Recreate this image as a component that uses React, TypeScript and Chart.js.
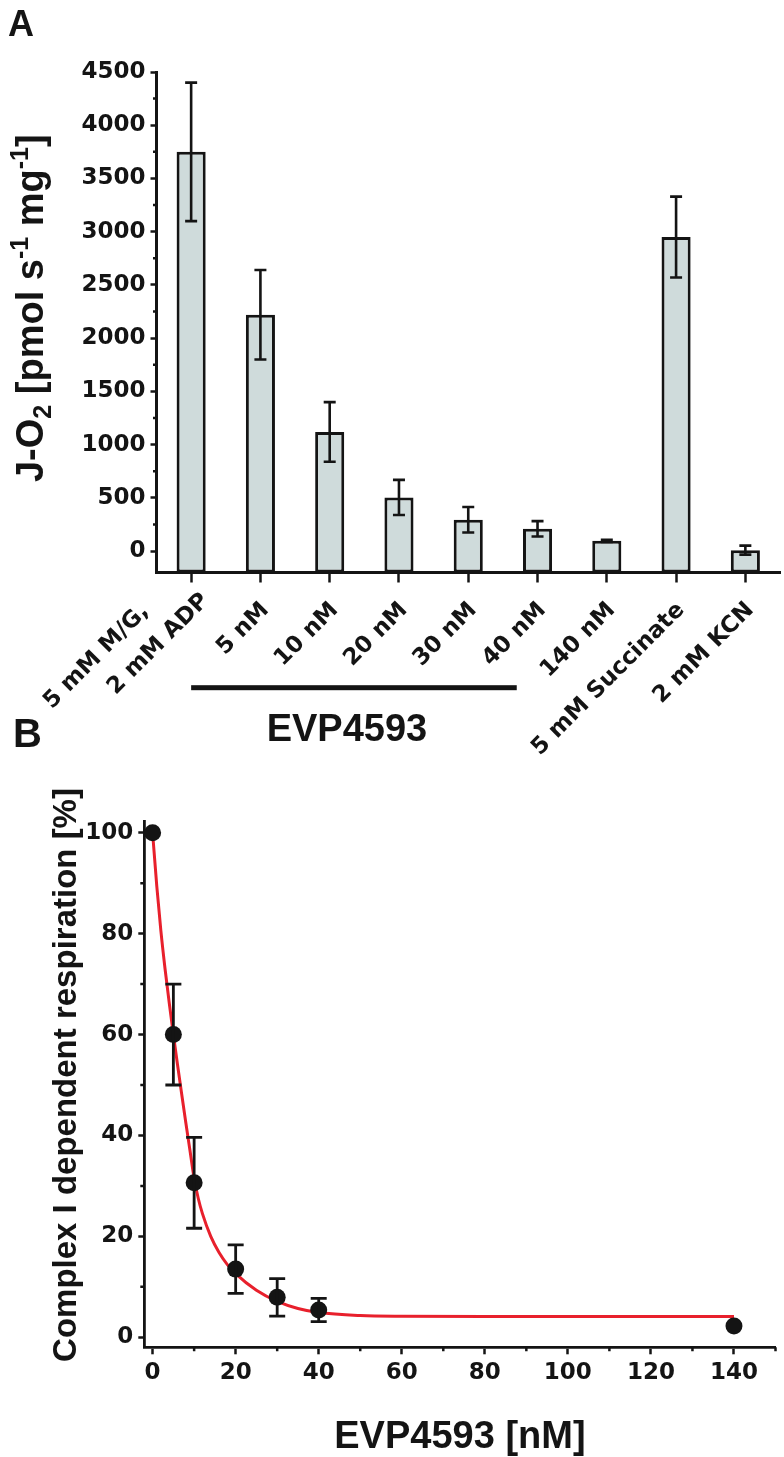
import React, { useEffect, useRef } from "react";
import { Chart, registerables } from "chart.js";

Chart.register(...registerables);

// ---------------- Panel A data ----------------
const conditionLabels: (string | string[])[] = [
  ["5 mM M/G,", "2 mM ADP"],
  "5 nM",
  "10 nM",
  "20 nM",
  "30 nM",
  "40 nM",
  "140 nM",
  "5 mM Succinate",
  "2 mM KCN",
];
const jo2Values = [3750, 2220, 1120, 505, 295, 210, 97, 2950, 10];
const jo2Errors = [650, 420, 280, 165, 120, 72, 10, 380, 42];
const jo2MajorTicks = [0, 500, 1000, 1500, 2000, 2500, 3000, 3500, 4000, 4500];
const jo2MinorTicks = [250, 750, 1250, 1750, 2250, 2750, 3250, 3750, 4250];
const jo2AxisMin = -200;
const jo2AxisMax = 4500;
const inhibitorName = "EVP4593";

// ---------------- Panel B data ----------------
const doseNm = [0, 5, 10, 20, 30, 40, 140];
const respirationPct = [100, 60, 30.6, 13.5, 7.9, 5.4, 2.2];
const respirationErr = [0, 10, 9, 4.8, 3.7, 2.3, 0];
const fitDoseNm = [0, 1, 2, 3, 4, 5, 6, 7, 8, 9, 10, 11, 12, 14, 16, 18, 20, 25, 30, 35, 40, 50, 60, 80, 100, 120, 140];
const fitRespirationPct = [100, 89.5, 80.5, 73, 66.3, 60, 54, 48.2, 42.5, 37, 31.5, 27.5, 24.5, 20, 16.8, 14.4, 12.6, 9.3, 7.1, 5.7, 4.9, 4.3, 4.15, 4.1, 4.1, 4.1, 4.1];
const doseMajorTicks = [0, 20, 40, 60, 80, 100, 120, 140];
const doseMinorTicks = [10, 30, 50, 70, 90, 110, 130, 150];
const respMajorTicks = [0, 20, 40, 60, 80, 100];
const respMinorTicks = [10, 30, 50, 70, 90];

// ---------------- styling ----------------
const W = 784;
const A_H = 770;
const B_TOP = 770;
const B_H = 1457 - B_TOP;
const INK = "#141414";
const BAR_FILL = "#cfdbdb";
const FIT_RED = "#e8202c";
const TICK_FONT = { family: "'DejaVu Sans', sans-serif", weight: "bold" as const, size: 23 };
const TITLE_FAMILY = "'Liberation Sans', Arial, sans-serif";

type Run = { text: string; size: number; dy: number };

function drawRotatedRuns(ctx: CanvasRenderingContext2D, runs: Run[], baselineX: number, centerY: number) {
  ctx.save();
  let total = 0;
  const widths = runs.map((r) => {
    ctx.font = `bold ${r.size}px ${TITLE_FAMILY}`;
    const w = ctx.measureText(r.text).width;
    total += w;
    return w;
  });
  ctx.translate(baselineX, centerY);
  ctx.rotate(-Math.PI / 2);
  ctx.fillStyle = INK;
  ctx.textAlign = "left";
  ctx.textBaseline = "alphabetic";
  let x = -total / 2;
  runs.forEach((r, i) => {
    ctx.font = `bold ${r.size}px ${TITLE_FAMILY}`;
    ctx.fillText(r.text, x, r.dy);
    x += widths[i];
  });
  ctx.restore();
}

function drawMinorTicks(ctx: CanvasRenderingContext2D, scale: any, values: number[], len: number, vertical: boolean) {
  ctx.save();
  ctx.strokeStyle = INK;
  ctx.lineWidth = 2.5;
  ctx.beginPath();
  values.forEach((v) => {
    const p = scale.getPixelForValue(v);
    if (vertical) {
      ctx.moveTo(scale.right - len, p);
      ctx.lineTo(scale.right, p);
    } else {
      ctx.moveTo(p, scale.top);
      ctx.lineTo(p, scale.top + len);
    }
  });
  ctx.stroke();
  ctx.restore();
}

const panelAPlugin = {
  id: "panelA",
  afterDatasetsDraw(chart: any) {
    const ctx: CanvasRenderingContext2D = chart.ctx;
    const y = chart.scales.y;
    const meta = chart.getDatasetMeta(0);
    ctx.save();
    ctx.strokeStyle = INK;
    ctx.lineWidth = 2.6;
    meta.data.forEach((el: any, i: number) => {
      const cx = el.x;
      const t = y.getPixelForValue(jo2Values[i] + jo2Errors[i]);
      const b = y.getPixelForValue(jo2Values[i] - jo2Errors[i]);
      ctx.beginPath();
      ctx.moveTo(cx, t);
      ctx.lineTo(cx, b);
      ctx.moveTo(cx - 6, t);
      ctx.lineTo(cx + 6, t);
      ctx.moveTo(cx - 6, b);
      ctx.lineTo(cx + 6, b);
      ctx.stroke();
    });
    ctx.restore();
  },
  afterDraw(chart: any) {
    const ctx: CanvasRenderingContext2D = chart.ctx;
    const xs = chart.scales.x;
    const ys = chart.scales.y;
    drawMinorTicks(ctx, ys, jo2MinorTicks, 3.5, true);

    // rotated category labels
    const ux = Math.SQRT1_2, uy = -Math.SQRT1_2; // along text
    const vx = Math.SQRT1_2, vy = Math.SQRT1_2; // below text
    const put = (text: string, px: number, py: number) => {
      ctx.save();
      ctx.translate(px, py);
      ctx.rotate(-Math.PI / 4);
      ctx.textAlign = "right";
      ctx.textBaseline = "middle";
      ctx.fillText(text, 0, 0);
      ctx.restore();
    };
    ctx.save();
    ctx.fillStyle = INK;
    ctx.font = `bold 23px 'DejaVu Sans', sans-serif`;
    conditionLabels.forEach((lab, i) => {
      const ax = xs.getPixelForTick(i) + 5;
      const ay = xs.top + 34;
      if (Array.isArray(lab)) {
        put(lab[1], ax + ux * 13, ay + uy * 13);
        put(lab[0], ax - ux * 37 - vx * 35, ay - uy * 37 - vy * 35);
      } else {
        put(lab, ax, ay);
      }
    });
    ctx.restore();

    // group bar + name
    const gx0 = xs.getPixelForTick(0);
    const gx1 = xs.getPixelForTick(5) - 0.3 * (xs.getPixelForTick(1) - xs.getPixelForTick(0));
    ctx.save();
    ctx.fillStyle = INK;
    ctx.fillRect(gx0, 685.2, gx1 - gx0, 5);
    ctx.font = `bold 38px ${TITLE_FAMILY}`;
    ctx.textAlign = "center";
    ctx.textBaseline = "alphabetic";
    ctx.fillText(inhibitorName, (gx0 + gx1) / 2 - 7, 741);
    ctx.textAlign = "left";
    ctx.font = `bold 36px ${TITLE_FAMILY}`;
    ctx.fillText("A", 8, 35.5);
    ctx.font = `bold 40px ${TITLE_FAMILY}`;
    ctx.fillText("B", 13, 747);
    ctx.restore();

    // y title
    drawRotatedRuns(
      ctx,
      [
        { text: "J-O", size: 38, dy: 0 },
        { text: "2", size: 25, dy: 8 },
        { text: " [pmol s", size: 38, dy: 0 },
        { text: "-1", size: 25, dy: -15 },
        { text: " mg", size: 38, dy: 0 },
        { text: "-1", size: 25, dy: -15 },
        { text: "]", size: 38, dy: 0 },
      ],
      43,
      (ys.top + ys.bottom) / 2 - 14
    );
  },
};

const panelBPlugin = {
  id: "panelB",
  afterDatasetsDraw(chart: any) {
    const ctx: CanvasRenderingContext2D = chart.ctx;
    const xs = chart.scales.x;
    const ys = chart.scales.y;
    ctx.save();
    ctx.strokeStyle = INK;
    ctx.lineWidth = 2.8;
    doseNm.forEach((d, i) => {
      const e = respirationErr[i];
      if (!e) return;
      const cx = xs.getPixelForValue(d);
      const t = ys.getPixelForValue(respirationPct[i] + e);
      const b = ys.getPixelForValue(respirationPct[i] - e);
      ctx.beginPath();
      ctx.moveTo(cx, t);
      ctx.lineTo(cx, b);
      ctx.moveTo(cx - 8, t);
      ctx.lineTo(cx + 8, t);
      ctx.moveTo(cx - 8, b);
      ctx.lineTo(cx + 8, b);
      ctx.stroke();
    });
    ctx.restore();
  },
  afterDraw(chart: any) {
    const ctx: CanvasRenderingContext2D = chart.ctx;
    const xs = chart.scales.x;
    const ys = chart.scales.y;
    drawMinorTicks(ctx, ys, respMinorTicks, 4, true);
    drawMinorTicks(ctx, xs, doseMinorTicks, 4, false);
    ctx.save();
    ctx.fillStyle = INK;
    ctx.font = `bold 38px ${TITLE_FAMILY}`;
    ctx.textAlign = "center";
    ctx.textBaseline = "alphabetic";
    ctx.fillText("EVP4593 [nM]", (xs.left + xs.right) / 2, 1448 - B_TOP);
    ctx.restore();
    ctx.save();
    ctx.font = `bold 33px ${TITLE_FAMILY}`;
    ctx.restore();
    drawRotatedRuns(ctx, [{ text: "Complex I dependent respiration [%]", size: 33, dy: 0 }], 76, 1075 - B_TOP);
  },
};

function makeChartA(canvas: HTMLCanvasElement) {
  return new Chart(canvas, {
    type: "bar",
    data: {
      labels: conditionLabels as any,
      datasets: [
        {
          data: jo2Values,
          base: jo2AxisMin,
          backgroundColor: BAR_FILL,
          borderColor: INK,
          borderWidth: 3,
          borderSkipped: false,
          barPercentage: 0.42,
          categoryPercentage: 1,
        } as any,
      ],
    },
    options: {
      animation: false,
      responsive: false,
      events: [],
      layout: { padding: { top: 72, right: 4, left: 0, bottom: 0 } },
      plugins: { legend: { display: false }, tooltip: { enabled: false } },
      scales: {
        x: {
          type: "category",
          offset: true,
          grid: { display: true, offset: false, drawOnChartArea: false, drawTicks: true, tickLength: 10, tickWidth: 2.5, tickColor: INK },
          border: { display: true, color: INK, width: 3 },
          ticks: { display: false, autoSkip: false },
          afterFit: (s: any) => {
            s.height = A_H - 572.5;
          },
        },
        y: {
          type: "linear",
          min: jo2AxisMin,
          max: jo2AxisMax,
          afterBuildTicks: (s: any) => {
            s.ticks = jo2MajorTicks.map((v) => ({ value: v }));
          },
          grid: { display: true, drawOnChartArea: false, drawTicks: true, tickLength: 6, tickWidth: 2.5, tickColor: INK },
          border: { display: true, color: INK, width: 3 },
          ticks: { font: TICK_FONT, color: INK, padding: 5, autoSkip: false, callback: (v: any) => String(v) },
          afterFit: (s: any) => {
            s.width = 156.5;
          },
        },
      },
    } as any,
    plugins: [panelAPlugin],
  });
}

function makeChartB(canvas: HTMLCanvasElement) {
  return new Chart(canvas, {
    type: "line",
    data: {
      datasets: [
        {
          data: doseNm.map((d, i) => ({ x: d, y: respirationPct[i] })),
          showLine: false,
          pointRadius: 8.5,
          pointBackgroundColor: INK,
          pointBorderWidth: 0,
          clip: false,
        } as any,
        {
          data: fitDoseNm.map((d, i) => ({ x: d, y: fitRespirationPct[i] })),
          showLine: true,
          borderColor: FIT_RED,
          borderWidth: 3,
          pointRadius: 0,
          fill: false,
          cubicInterpolationMode: "monotone",
        } as any,
      ],
    },
    options: {
      animation: false,
      responsive: false,
      events: [],
      layout: { padding: { top: 821.7 - B_TOP, right: W - 777, left: 0, bottom: 0 } },
      plugins: { legend: { display: false }, tooltip: { enabled: false } },
      scales: {
        x: {
          type: "linear",
          min: -2,
          max: 150,
          afterBuildTicks: (s: any) => {
            s.ticks = doseMajorTicks.map((v) => ({ value: v }));
          },
          grid: { display: true, drawOnChartArea: false, drawTicks: true, tickLength: 7, tickWidth: 2.5, tickColor: INK },
          border: { display: true, color: INK, width: 2.8 },
          ticks: { font: TICK_FONT, color: INK, padding: 5, autoSkip: false, maxRotation: 0, callback: (v: any) => String(v) },
          afterFit: (s: any) => {
            s.height = B_H - (1347.3 - B_TOP);
          },
        },
        y: {
          type: "linear",
          min: -2,
          max: 102.2,
          afterBuildTicks: (s: any) => {
            s.ticks = respMajorTicks.map((v) => ({ value: v }));
          },
          grid: { display: true, drawOnChartArea: false, drawTicks: true, tickLength: 6, tickWidth: 2.5, tickColor: INK },
          border: { display: true, color: INK, width: 2.8 },
          ticks: { font: TICK_FONT, color: INK, padding: 5, autoSkip: false, callback: (v: any) => String(v) },
          afterFit: (s: any) => {
            s.width = 144.3;
          },
        },
      },
    } as any,
    plugins: [panelBPlugin],
  });
}

export default function App() {
  const refA = useRef<HTMLCanvasElement>(null);
  const refB = useRef<HTMLCanvasElement>(null);
  useEffect(() => {
    const charts: Chart[] = [];
    if (refA.current) charts.push(makeChartA(refA.current));
    if (refB.current) charts.push(makeChartB(refB.current));
    return () => charts.forEach((c) => c.destroy());
  }, []);
  return (
    <div style={{ position: "absolute", left: 0, top: 0, width: W, height: 1457, background: "#fff", overflow: "hidden" }}>
      <canvas ref={refA} width={W} height={A_H} style={{ position: "absolute", left: 0, top: 0, width: W, height: A_H }} />
      <canvas ref={refB} width={W} height={B_H} style={{ position: "absolute", left: 0, top: B_TOP, width: W, height: B_H }} />
    </div>
  );
}
